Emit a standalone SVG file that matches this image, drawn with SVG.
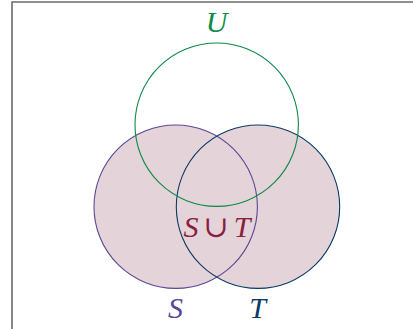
<svg xmlns="http://www.w3.org/2000/svg" width="413" height="329" viewBox="0 0 413 329">
<style>
.lbl{font-family:"Liberation Serif","DejaVu Serif",serif;font-style:italic;font-size:30px;text-anchor:middle}
.ring{fill:none;stroke-width:1.1}
</style>
<rect x="0" y="0" width="413" height="329" fill="#ffffff"/>
<path d="M12 340 V2 H420" fill="none" stroke="#6b6b6b" stroke-width="1.6"/>
<g id="fills">
<circle cx="175.7" cy="206.7" r="81.7" fill="#e4d4d9"/>
<circle cx="258" cy="206.7" r="81.7" fill="#e4d4d9"/>
</g>
<g id="S">
<circle class="ring" cx="175.7" cy="206.7" r="81.7" stroke="#5a4896"/>
<text class="lbl" x="175.5" y="318" fill="#5a4896">S</text>
</g>
<g id="T">
<circle class="ring" cx="258" cy="206.7" r="81.7" stroke="#0c3b66"/>
<text class="lbl" x="257.5" y="318" fill="#0c3b66">T</text>
</g>
<g id="U">
<circle class="ring" cx="216.7" cy="124.7" r="81.7" stroke="#0b8a47"/>
<text class="lbl" x="216.5" y="32" fill="#0b8a47">U</text>
</g>
<g id="union">
<text class="lbl" x="217" y="237" fill="#8a1e3e">S<tspan font-style="normal" dx="5">∪</tspan><tspan dx="5">T</tspan></text>
</g>
<g id="connectors"/>
</svg>
